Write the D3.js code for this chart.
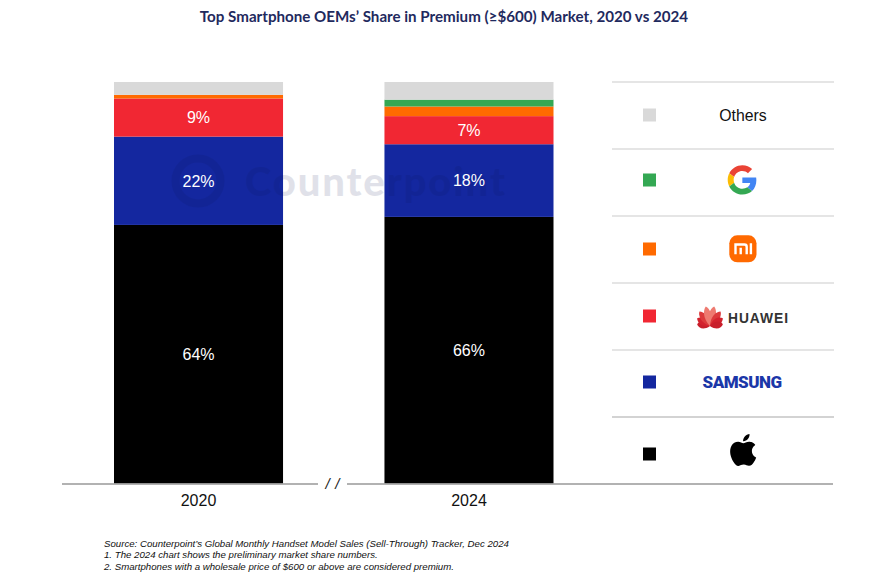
<!DOCTYPE html>
<html><head><meta charset="utf-8">
<script src="https://d3js.org/d3.v7.min.js"></script>
<style>html,body{margin:0;padding:0;background:#fff}svg{display:block}</style>
</head><body><svg id="c" width="893" height="584"></svg>
<script>
const years = ["2020","2024"];
const seriesNames = ["Apple","Samsung","Huawei","Xiaomi","Google","Others"];
const apple   = [64.4,66.4];
const samsung = [22.0,18.1];
const huawei  = [9.5,7.0];
const xiaomi  = [0.9,2.4];
const google  = [0,1.7];
const others  = [3.2,4.4];
const seriesValues = [apple,samsung,huawei,xiaomi,google,others];
const barLabels = [["64%","66%"],["22%","18%"],["9%","7%"],[null,null],[null,null],[null,null]];
const colors = ["#000000","#14279f","#f12733","#ff6a00","#34a853","#d9d9d9"];
const titleText = "Top Smartphone OEMs\u2019 Share in Premium (\u2265$600) Market, 2020 vs 2024";
const notes = ["Source: Counterpoint\u2019s Global Monthly Handset Model Sales (Sell-Through) Tracker, Dec 2024",
 "1. The 2024 chart shows the preliminary market share numbers.",
 "2. Smartphones with a wholesale price of $600 or above are considered premium."];

const svg = d3.select("#c");
const sans = "'Liberation Sans',Arial,sans-serif";
const x = d3.scaleBand().domain(years).range([114,553.5]).paddingInner(0.375).paddingOuter(0);
const y = d3.scaleLinear().domain([0,100]).range([483.5,82]);

svg.append("text").attr("x",444).attr("y",21.5).attr("text-anchor","middle")
  .style("font","700 15.15px Lato,sans-serif").attr("fill","#1f2a5e").text(titleText);

// stacked bars
const tableRows = years.map((yr,i)=>{const r={year:yr};seriesNames.forEach((s,j)=>r[s]=seriesValues[j][i]);return r;});
const stacked = d3.stack().keys(seriesNames)(tableRows);
svg.append("g").selectAll("g").data(stacked).join("g").attr("fill",(d,i)=>colors[i])
  .selectAll("rect").data(d=>d).join("rect")
  .attr("x",d=>x(d.data.year)).attr("width",x.bandwidth())
  .attr("y",d=>y(d[1])).attr("height",d=>y(d[0])-y(d[1]));

// watermark
const wm = svg.append("g").attr("opacity",0.12);
wm.append("circle").attr("cx",198).attr("cy",181).attr("r",22.5).attr("fill","none").attr("stroke","#0a1550").attr("stroke-width",8);
wm.append("text").attr("x",245).attr("y",196).attr("textLength",260).attr("lengthAdjust","spacing")
  .style("font","900 40px Lato,sans-serif").attr("fill","#0a1550").text("Counterpoint");

// value labels
svg.append("g").selectAll("g").data(stacked).join("g")
  .selectAll("text").data((d,j)=>d.map((p,i)=>({p,label:barLabels[j][i]})).filter(e=>e.label)).join("text")
  .attr("x",d=>x(d.p.data.year)+x.bandwidth()/2).attr("y",d=>(y(d.p[0])+y(d.p[1]))/2)
  .attr("dy","0.36em").attr("text-anchor","middle").attr("fill","#fff")
  .style("font","16px "+sans).text(d=>d.label);

// baseline
const base = svg.append("g").attr("stroke","#999").attr("stroke-width",1.4);
base.append("line").attr("x1",62).attr("x2",318).attr("y1",484).attr("y2",484);
base.append("line").attr("x1",347).attr("x2",833).attr("y1",484).attr("y2",484);
svg.append("text").attr("x",332.5).attr("y",489).attr("text-anchor","middle")
  .style("font","italic 15px "+sans).style("word-spacing","1.5px").attr("fill","#222").text("/ /");

// axis
const ax = svg.append("g").attr("transform","translate(0,484)").call(d3.axisBottom(x).tickSize(0).tickPadding(11));
ax.select(".domain").remove();
ax.selectAll("text").style("font","16px "+sans).attr("fill","#111");

// legend
const rows = d3.scaleBand().domain(seriesNames.slice().reverse()).range([82,484]);
const lg = svg.append("g");
lg.selectAll("line").data(seriesNames.slice().reverse()).join("line")
  .attr("x1",612).attr("x2",834).attr("y1",d=>rows(d)).attr("y2",d=>rows(d))
  .attr("stroke",d=>d==="Apple"?"#c4c4c4":"#dcdcdc").attr("stroke-width",1.3);
const swY = {Others:115,Google:180,Xiaomi:249,Huawei:316,Samsung:382,Apple:454};
lg.selectAll("rect").data(seriesNames).join("rect")
  .attr("x",643).attr("width",13).attr("height",13)
  .attr("y",d=>swY[d]-6.5).attr("fill",(d,i)=>colors[i]);

svg.append("text").attr("x",743).attr("y",121.3).attr("text-anchor","middle")
  .style("font","15.8px "+sans).attr("fill","#111").text("Others");

// Google
const g = svg.append("g").attr("transform","translate(727.7,165.2) scale(0.61)");
[["#ea4335","M24 9.5c3.54 0 6.71 1.22 9.21 3.6l6.85-6.85C35.9 2.38 30.47 0 24 0 14.62 0 6.51 5.38 2.56 13.22l7.98 6.19C12.43 13.72 17.74 9.5 24 9.5z"],
 ["#4285f4","M46.98 24.55c0-1.57-.15-3.09-.38-4.55H24v9.02h12.94c-.58 2.96-2.26 5.48-4.78 7.18l7.73 6c4.51-4.18 7.09-10.36 7.09-17.65z"],
 ["#fbbc05","M10.53 28.59c-.48-1.45-.76-2.99-.76-4.59s.27-3.14.76-4.59l-7.98-6.19C.92 16.46 0 20.12 0 24c0 3.88.92 7.54 2.56 10.78l7.97-6.19z"],
 ["#34a853","M24 48c6.48 0 11.93-2.13 15.89-5.81l-7.73-6c-2.15 1.45-4.92 2.3-8.16 2.3-6.26 0-11.57-4.22-13.47-9.91l-7.98 6.19C6.51 42.62 14.62 48 24 48z"]]
 .forEach(p=>g.append("path").attr("fill",p[0]).attr("d",p[1]));

// Xiaomi
const m = svg.append("g").attr("transform","translate(729.3,235.3)");
m.append("rect").attr("width",27.2).attr("height",27).attr("rx",8).attr("fill","#ff6900");
m.append("path").attr("fill","#fff").attr("d","M5 8h10.2a3.4 3.4 0 0 1 3.4 3.4V19h-2.4v-7.2a1.4 1.4 0 0 0-1.4-1.4H7.4V19H5zM10.2 12.4h2.4V19h-2.4zM20.4 8h2.4v11h-2.4z");

// Huawei
const h = svg.append("g").attr("transform","translate(710,326)");
[[-82,13,"#c81f2b"],[-59,15,"#d3222e"],[-36,18,"#dc3a3c"],[-12,20,"#ee7a70"],[12,20,"#ee7a70"],[36,18,"#dc3a3c"],[59,15,"#d3222e"],[82,13,"#c81f2b"]].forEach(p=>{
  const len=p[1];
  h.append("path").attr("transform",`rotate(${p[0]})`).attr("fill",p[2])
   .attr("d",`M0 0C-5.5 ${-len*0.45} -3.6 ${-len*0.85} 0 ${-len}C3.6 ${-len*0.85} 5.5 ${-len*0.45} 0 0Z`);
});
svg.append("text").attr("x",728).attr("y",322.5).attr("textLength",60).attr("lengthAdjust","spacing")
  .style("font","700 13.8px 'Liberation Sans',Arial,sans-serif").attr("fill","#333").text("HUAWEI");

// Samsung
svg.append("text").attr("x",702.5).attr("y",388).attr("textLength",79.5).attr("lengthAdjust","spacing")
  .style("font","900 17px Roboto,sans-serif").attr("fill","#1b37a8").text("SAMSUNG");

// Apple
svg.append("path").attr("transform","translate(727.2,434) scale(1.33)").attr("fill","#000")
  .attr("d","M12.152 6.896c-.948 0-2.415-1.078-3.96-1.04-2.04.027-3.91 1.183-4.961 3.014-2.117 3.675-.546 9.103 1.519 12.09 1.013 1.454 2.208 3.09 3.792 3.039 1.52-.065 2.09-.987 3.935-.987 1.831 0 2.35.987 3.96.948 1.637-.026 2.676-1.48 3.676-2.948 1.156-1.688 1.636-3.325 1.662-3.415-.039-.013-3.182-1.221-3.22-4.857-.026-3.04 2.48-4.494 2.597-4.559-1.429-2.09-3.623-2.324-4.39-2.376-2-.156-3.675 1.09-4.61 1.09zM15.53 3.83c.843-1.012 1.4-2.427 1.245-3.83-1.207.052-2.662.805-3.532 1.818-.78.896-1.454 2.338-1.273 3.714 1.338.104 2.715-.688 3.559-1.701");

// notes
svg.append("g").selectAll("text").data(notes).join("text")
  .attr("x",104).attr("y",(d,i)=>[546.5,558,569.5][i])
  .style("font","italic 9.67px "+sans).attr("fill","#111").text(d=>d);
</script></body></html>
